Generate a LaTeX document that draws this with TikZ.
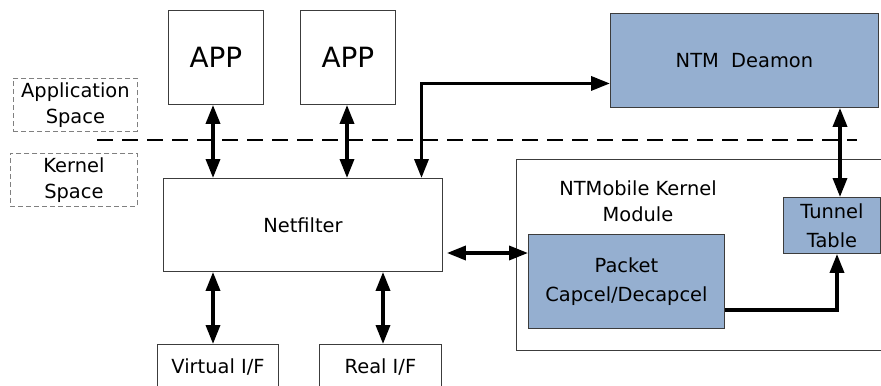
\documentclass[tikz,border=0pt]{standalone}
\usepackage{fontspec}
\setmainfont{DejaVu Sans}
\usetikzlibrary{arrows.meta}
\definecolor{boxblue}{HTML}{95AFD0}
\definecolor{edge}{HTML}{3C3C3C}
\begin{document}
\begin{tikzpicture}[x=1bp,y=-1bp,
  txt/.style={font=\fontsize{19.5}{26}\selectfont},
  blk/.style={draw=edge, line width=0.9bp, anchor=north west, inner sep=0pt,
    align=center, txt},
  bluebox/.style={blk, fill=boxblue},
  spacebox/.style={draw=gray, dash pattern=on 5bp off 3bp, line width=0.8bp,
    anchor=north west, inner sep=0pt, align=center, txt},
  tip/.tip={Triangle[length=19bp,width=14bp]},
  link/.style={line width=3.5bp, tip-tip},
  oneway/.style={line width=3.5bp, -tip}
]
\useasboundingbox (0,0) rectangle (881,385);

% user / kernel boundary
\coordinate (dl) at (97,140);
\coordinate (dr) at (857,140);
\draw[line width=2bp, dash pattern=on 16bp off 9bp] (dl) -- (dr);

% side labels
\node[spacebox, minimum width=124bp, minimum height=53bp] (appsp) at (13,78) {Application\\Space};
\node[spacebox, minimum width=127bp, minimum height=53bp] (kersp) at (10,153) {Kernel\\Space};

% application space
\node[blk, minimum width=95bp, minimum height=94bp, font=\fontsize{28}{30}\selectfont] (app1) at (168,10) {APP};
\node[blk, minimum width=95bp, minimum height=94bp, font=\fontsize{28}{30}\selectfont] (app2) at (300,10) {APP};
\node[bluebox, minimum width=268bp, minimum height=94bp] (ntm) at (610,13) {NTM\ \ Deamon};

% kernel space
\node[blk, minimum width=279bp, minimum height=93bp] (netf) at (163,178) {Netfilter};
\node[blk, minimum width=400bp, minimum height=191bp] (ntmk) at (516,159) {};
\node[txt, align=center] (ntmklbl) at (638,201) {NTMobile Kernel\\Module};
\node[bluebox, minimum width=196bp, minimum height=94bp, font=\fontsize{19.5}{29}\selectfont] (packet) at (528,234) {Packet\\Capcel/Decapcel};
\node[bluebox, minimum width=97bp, minimum height=56bp, font=\fontsize{19.5}{29}\selectfont] (tunnel) at (783,197) {Tunnel\\Table};
\node[blk, minimum width=121bp, minimum height=46bp] (vif) at (157,344) {Virtual I/F};
\node[blk, minimum width=122bp, minimum height=46bp] (rif) at (319,344) {Real I/F};

% connector columns and rows
\coordinate (c1) at (213,0);
\coordinate (c2) at (347,0);
\coordinate (c3) at (421.5,0);
\coordinate (c4) at (383,0);
\coordinate (c5) at (840,0);
\coordinate (c6) at (837,0);
\coordinate (r1) at (0,253);
\coordinate (r2) at (0,310);

\draw[link] (app1.south -| c1) -- (netf.north -| c1);
\draw[link] (app2.south -| c2) -- (netf.north -| c2);
\draw[link] ([yshift=-23bp]ntm.west) -| (netf.north -| c3);
\draw[link] (ntm.south -| c5) -- (tunnel.north -| c5);
\draw[link] ([xshift=4bp]netf.east |- r1) -- (packet.west |- r1);
\draw[oneway] (packet.east |- r2) -| (tunnel.south -| c6);
\draw[link] (netf.south -| c1) -- (vif.north -| c1);
\draw[link] (netf.south -| c4) -- (rif.north -| c4);
\end{tikzpicture}
\end{document}
